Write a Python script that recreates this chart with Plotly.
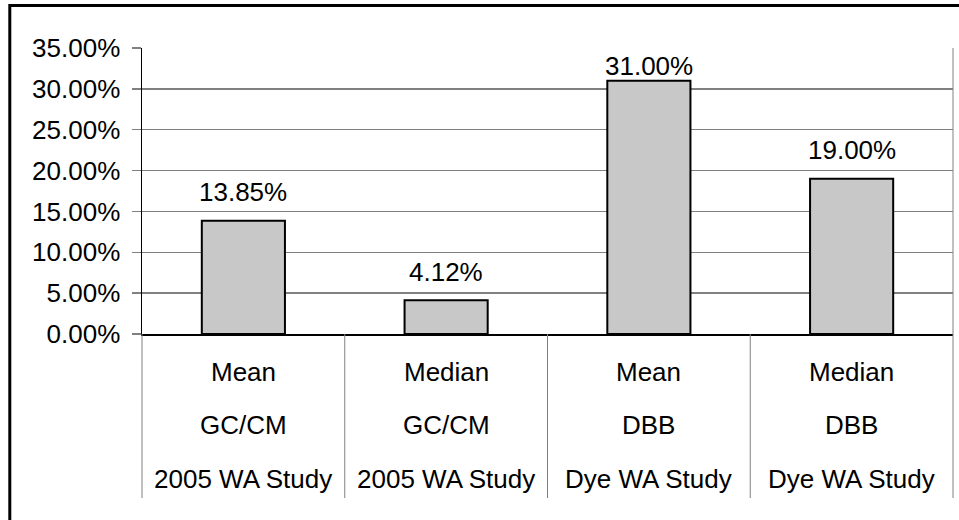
import plotly.graph_objects as go

# ---- data ----
stats = ["Mean", "Median", "Mean", "Median"]
compounds = ["GC/CM", "GC/CM", "DBB", "DBB"]
studies = ["2005 WA Study", "2005 WA Study", "Dye WA Study", "Dye WA Study"]
values = [0.1385, 0.0412, 0.31, 0.19]
y_ticks = [0.0, 0.05, 0.10, 0.15, 0.20, 0.25, 0.30, 0.35]

FONT = "Liberation Sans, Arial, sans-serif"
FS = 26
W, H = 959, 520
ML, MR, MT, MB = 142, 6, 48, 186
PW, PH = W - ML - MR, H - MT - MB
YMAX = 0.35

n = len(values)
x = list(range(n))

fig = go.Figure(
    go.Bar(
        x=x, y=values, width=0.41,
        marker=dict(color="#C8C8C8", line=dict(color="black", width=2)),
        hoverinfo="skip",
    )
)

annotations = []
# data labels (Excel "outside end", kept inside the chart near the top)
for xi, v in zip(x, values):
    annotations.append(dict(
        x=xi, y=min(v + 0.035, YMAX - 0.0226), xref="x", yref="y",
        text=f"{v:.2%}", showarrow=False, yanchor="middle", xanchor="center",
        font=dict(family=FONT, size=FS, color="black"),
    ))

# multi-level category labels
rows = [(stats, 38), (compounds, 91), (studies, 145)]
for labels, off in rows:
    for xi, lab in zip(x, labels):
        annotations.append(dict(
            x=xi, y=0, xref="x", yref="paper", yshift=-off,
            text=lab, showarrow=False, yanchor="middle", xanchor="center",
            font=dict(family=FONT, size=FS, color="black"),
        ))

shapes = []
cat_depth = (498 - 334) / PH
for b in range(n + 1):
    px = b / n
    shapes.append(dict(
        type="line", xref="paper", yref="paper",
        x0=px, x1=px, y0=-cat_depth, y1=(1 if b == n else 0),
        line=dict(color="#808080", width=1),
    ))
# outer chart frame (partly outside the picture)
shapes.append(dict(
    type="rect", xref="paper", yref="paper",
    x0=(9.8 - ML) / PW, x1=1.2, y0=-1.0, y1=(H - MB - 5.4) / PH,
    line=dict(color="black", width=3), fillcolor="rgba(0,0,0,0)",
))

fig.update_layout(
    width=W, height=H, autosize=False,
    margin=dict(l=ML, r=MR, t=MT, b=MB, pad=0),
    paper_bgcolor="white", plot_bgcolor="white",
    showlegend=False,
    font=dict(family=FONT, size=FS, color="black"),
    annotations=annotations,
    shapes=shapes,
    xaxis=dict(
        range=[-0.5, n - 0.5], showticklabels=False, showgrid=False,
        showline=True, linecolor="black", linewidth=2, zeroline=False,
        ticks="", fixedrange=True,
    ),
    yaxis=dict(
        range=[0, YMAX], tickvals=y_ticks, tickformat=".2%",
        showgrid=True, gridcolor="#808080", gridwidth=1.5,
        showline=True, linecolor="black", linewidth=1.5,
        ticks="outside", ticklen=9, tickcolor="#808080", tickwidth=1.5,
        ticklabelstandoff=6, zeroline=False, fixedrange=True,
        tickfont=dict(family=FONT, size=FS, color="black"),
    ),
)

fig.write_html(
    "out.html",
    config={"displayModeBar": False, "staticPlot": True},
    post_script="document.body.style.margin='0';document.body.style.overflow='hidden';",
)
